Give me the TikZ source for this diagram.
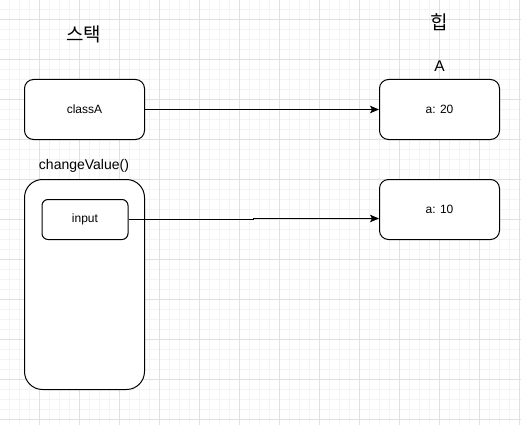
\documentclass[tikz,border=0pt]{standalone}
\usepackage{fontspec}
\usepackage{tikz}
\usepackage{xcolor}
\setmainfont{Liberation Sans}
\newfontfamily\krfont{Noto Sans CJK KR}
\usetikzlibrary{arrows.meta,positioning}
\definecolor{memminor}{RGB}{244,244,244}
\definecolor{memmajor}{RGB}{224,224,224}
\definecolor{memline}{RGB}{0,0,0}
\tikzset{
  memgrid/.style={draw=memminor, line width=1pt},
  memgridmajor/.style={draw=memmajor, line width=1pt},
  membox/.style={draw=memline, line width=1pt, rounded corners=9pt, fill=white, align=center, minimum width=120pt, minimum height=60pt, inner sep=0pt, font=\fontsize{12}{14}\selectfont},
  memframe/.style={draw=memline, line width=1pt, rounded corners=18pt, fill=white, minimum width=120pt, minimum height=210pt, inner sep=0pt},
  meminner/.style={draw=memline, line width=1pt, rounded corners=6pt, fill=white, align=center, minimum width=86pt, minimum height=40pt, inner sep=0pt, font=\fontsize{12}{14}\selectfont},
  memtitle/.style={inner sep=0pt, font=\krfont\fontsize{19}{21}\selectfont},
  memlabel/.style={inner sep=0pt, font=\fontsize{14}{16}\selectfont},
  memarr/.style={-{Stealth[length=9pt,width=7.5pt,inset=2pt]}, line width=1pt, draw=memline}
}
\begin{document}
\begin{tikzpicture}[x=1pt, y=-1pt]
  \useasboundingbox[fill=white] (0,0) rectangle (521,425);
  \foreach \gx in {9.5,19.5,...,519.5} {
    \draw[memgrid] (\gx,0) -- (\gx,425);
  }
  \foreach \gy in {9.5,19.5,...,419.5} {
    \draw[memgrid] (0,\gy) -- (521,\gy);
  }
  \foreach \gx in {39.5,79.5,...,519.5} {
    \draw[memgridmajor] (\gx,0) -- (\gx,425);
  }
  \foreach \gy in {19.5,59.5,...,419.5} {
    \draw[memgridmajor] (0,\gy) -- (521,\gy);
  }
  \node[memtitle] (stackT) at (83.5,34.5) {스택};
  \node[memtitle] (heapT) at (439,22.5) {힙};
  \node[memlabel, font=\fontsize{15.5}{17}\selectfont] (objA) at (439.5,66) {A};
  \node[membox] (classA) at (84.5,109.5) {classA};
  \node[membox] (a20) at (439.5,109.5) {a: 20};
  \node[memlabel] (frameT) at (84,165.5) {changeValue()};
  \node[memframe] (frame) at (84.5,284.5) {};
  \node[meminner] (input) at (85,219.5) {input};
  \node[membox] (a10) at (439.5,209.5) {a: 10};
  \coordinate (jogA) at (253,219.5);
  \coordinate (jogB) at (253,218.5);
  \coordinate (tipA) at (a10.west |- jogB);
  \draw[memarr] (classA) -- (a20);
  \draw[memarr] (input.east) -- (jogA) -- (jogB) -- (tipA);
\end{tikzpicture}
\end{document}
